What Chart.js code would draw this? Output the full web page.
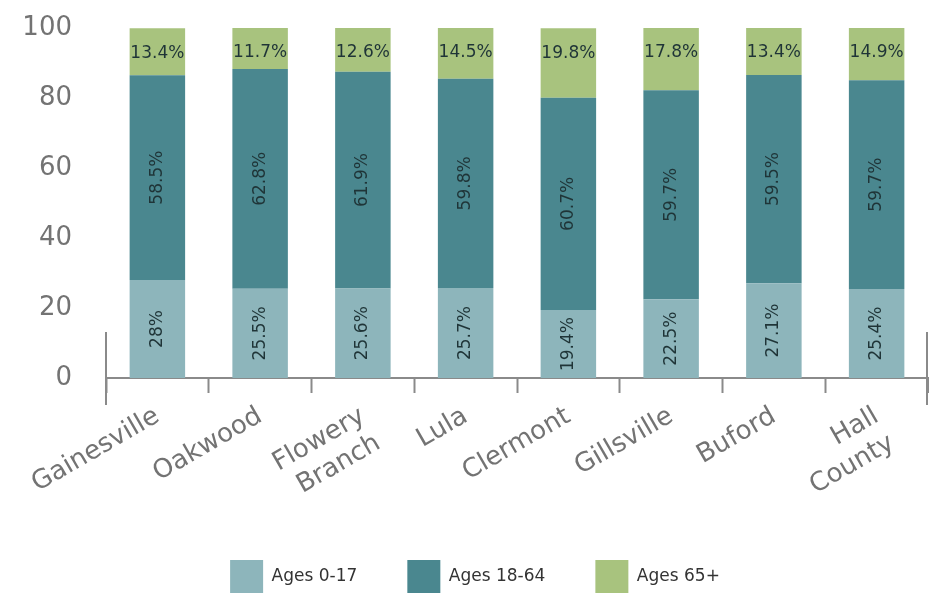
<!DOCTYPE html>
<html>
<head>
<meta charset="utf-8">
<script src="https://cdn.jsdelivr.net/npm/chart.js@4/dist/chart.umd.min.js"></script>
<style>
  html, body { margin: 0; padding: 0; background: #fff; overflow: hidden; }
  #wrap { width: 929px; height: 597px; overflow: hidden; }
</style>
</head>
<body>
<div id="wrap"><canvas id="chart" width="929" height="603"></canvas></div>
<script>
// population share by age group, per area
var areas = ['Gainesville', 'Oakwood', ['Flowery', 'Branch'], 'Lula', 'Clermont', 'Gillsville', 'Buford', ['Hall', 'County']];
var ages0to17 = [28, 25.5, 25.6, 25.7, 19.4, 22.5, 27.1, 25.4];
var ages18to64 = [58.5, 62.8, 61.9, 59.8, 60.7, 59.7, 59.5, 59.7];
var ages65up = [13.4, 11.7, 12.6, 14.5, 19.8, 17.8, 13.4, 14.9];
var yTicks = [0, 20, 40, 60, 80, 100];

var axisFont = 'DejaVu Sans';
var axisColor = '#737373';

// percent labels inside the bar segments
var segmentLabels = {
    id: 'segmentLabels',
    afterDatasetsDraw: function(chart) {
        var ctx = chart.ctx;
        ctx.save();
        ctx.font = '17px "DejaVu Sans"';
        ctx.fillStyle = '#1f3437';
        ctx.textAlign = 'center';
        ctx.textBaseline = 'middle';
        chart.data.datasets.forEach(function(ds, di) {
            var meta = chart.getDatasetMeta(di);
            meta.data.forEach(function(bar, i) {
                var txt = ds.data[i] + '%';
                if (di < 2) {
                    ctx.save();
                    ctx.translate(bar.x, (bar.y + bar.base) / 2);
                    ctx.rotate(-Math.PI / 2);
                    ctx.fillText(txt, 0, 0);
                    ctx.restore();
                } else {
                    ctx.fillText(txt, bar.x, bar.y + 25);
                }
            });
        });
        ctx.restore();
    }
};

// longer end marks at both ends of the category axis
var edgeMarks = {
    id: 'edgeMarks',
    afterDraw: function(chart) {
        var ctx = chart.ctx;
        var a = chart.chartArea;
        ctx.save();
        ctx.strokeStyle = '#8a8a8a';
        ctx.lineWidth = 2;
        [a.left, a.right - 1].forEach(function(x) {
            ctx.beginPath();
            ctx.moveTo(x, a.bottom - 46);
            ctx.lineTo(x, a.bottom + 27);
            ctx.stroke();
        });
        ctx.restore();
    }
};

new Chart(document.getElementById('chart'), {
    type: 'bar',
    data: {
        labels: areas,
        datasets: [
            { label: 'Ages 0-17', data: ages0to17, backgroundColor: '#8db5bb' },
            { label: 'Ages 18-64', data: ages18to64, backgroundColor: '#4a878f' },
            { label: 'Ages 65+', data: ages65up, backgroundColor: '#a8c37e' }
        ]
    },
    options: {
        responsive: false,
        animation: false,
        barPercentage: 0.54,
        categoryPercentage: 1,
        layout: { padding: { left: 22, right: 1, top: 28, bottom: 0 } },
        plugins: {
            tooltip: { enabled: false },
            legend: {
                position: 'bottom',
                labels: {
                    boxWidth: 33,
                    boxHeight: 33,
                    padding: 50,
                    color: '#333',
                    font: { family: axisFont, size: 17 }
                }
            }
        },
        scales: {
            x: {
                stacked: true,
                offset: true,
                grid: {
                    offset: true,
                    drawOnChartArea: false,
                    tickLength: 15,
                    tickWidth: 2,
                    color: '#8a8a8a'
                },
                border: { display: true, color: '#8a8a8a', width: 2 },
                ticks: {
                    color: axisColor,
                    autoSkip: false,
                    minRotation: 30,
                    maxRotation: 30,
                    padding: 8,
                    font: { family: axisFont, size: 26 }
                },
                afterFit: function(scale) {
                    scale.height = 132;
                    scale.paddingLeft = 0;
                    scale.paddingRight = 0;
                }
            },
            y: {
                stacked: true,
                min: 0,
                max: 100,
                grid: { display: false },
                border: { display: false },
                afterBuildTicks: function(scale) {
                    scale.ticks = yTicks.map(function(v) { return { value: v }; });
                },
                ticks: {
                    color: axisColor,
                    padding: 26,
                    font: { family: axisFont, size: 26 }
                },
                afterFit: function(scale) {
                    scale.width = 84;
                    scale.paddingTop = 0;
                    scale.paddingBottom = 0;
                }
            }
        }
    },
    plugins: [segmentLabels, edgeMarks]
});
</script>
</body>
</html>
